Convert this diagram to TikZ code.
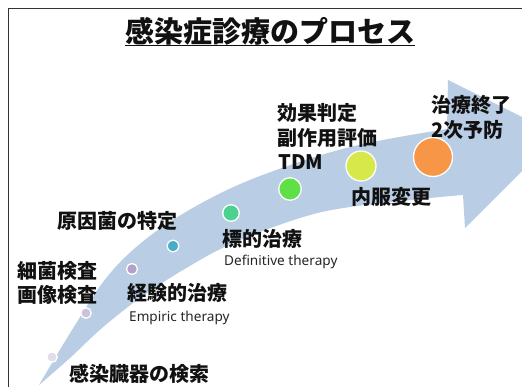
\documentclass[tikz,border=0pt]{standalone}
\usepackage{fontspec}
\newfontfamily\jpfont{Noto Sans CJK JP}
\newfontfamily\enfont{Noto Sans}
\definecolor{framec}{HTML}{333333}
\definecolor{arrowc}{HTML}{B9CDE5}
\definecolor{txt}{HTML}{111111}
\definecolor{entxt}{HTML}{262626}
\definecolor{cA}{HTML}{E2DDEC}
\definecolor{cB}{HTML}{CCC0DA}
\definecolor{cC}{HTML}{B3A2C7}
\definecolor{cD}{HTML}{4BACC6}
\definecolor{cE}{HTML}{4CD28E}
\definecolor{cF}{HTML}{5FE046}
\definecolor{cG}{HTML}{D7E84A}
\definecolor{cH}{HTML}{F79646}
\tikzset{
  jp/.style={font=\jpfont\bfseries\fontsize{20}{24}\selectfont, anchor=base west, inner sep=0pt, text=txt},
  en/.style={font=\enfont\fontsize{13.6}{16}\selectfont, anchor=base west, inner sep=0pt, text=entxt},
  dot/.style={circle, draw=white, line width=1.3pt, inner sep=0pt}
}
\begin{document}
\begin{tikzpicture}[x=1pt,y=-1pt]
\useasboundingbox (0,0) rectangle (522,387);
\clip (0,0) rectangle (522,387);
\fill[white] (0,0) rectangle (522,387);
\draw[framec, line width=1.7pt] (8.5,400) -- (8.5,8.5) -- (540,8.5);
% curved arrow
\fill[arrowc] plot[smooth, tension=0.6] coordinates {(39,385) (72,330) (107,277) (146,239) (198,205) (260,176) (350,147) (447,129)}
  -- (448,80) -- (558,135) -- (465,228) --
  plot[smooth, tension=0.6] coordinates {(463,195) (430,198) (350,207) (300,218) (233,243) (183,270) (140,298) (102,328) (70,358) (39,385)} -- cycle;
% title
\node[font=\jpfont\bfseries\fontsize{29}{34}\selectfont, anchor=base, inner sep=0pt, text=txt] (title) at (270,43) {感染症診療のプロセス};
\draw[txt, line width=1.8pt] ([yshift=-2.5pt]title.base west) -- ([yshift=-2.5pt]title.base east);
% dots
\node[dot, fill=cA, minimum size=10.5pt] (d1) at (52,357) {};
\node[dot, fill=cB, minimum size=10.5pt] (d2) at (86,313) {};
\node[dot, fill=cC, minimum size=11pt] (d3) at (132,269) {};
\node[dot, fill=cD, minimum size=11.5pt] (d4) at (173,246) {};
\node[dot, fill=cE, minimum size=16.5pt] (d5) at (231,213) {};
\node[dot, fill=cF, minimum size=22.5pt] (d6) at (290,189) {};
\node[dot, fill=cG, minimum size=30pt] (d7) at (361,166) {};
\node[dot, fill=cH, minimum size=39pt] (d8) at (433,157) {};
% labels
\node[jp] (t1) at (69,381) {感染臓器の検索};
\node[jp] (t2a) at (17,279) {細菌検査};
\node[jp] (t2b) at (17,302) {画像検査};
\node[jp] (t3) at (127,301) {経験的治療};
\node[en] (t3e) at (129,321) {Empiric therapy};
\node[jp] (t4) at (57,229) {原因菌の特定};
\node[jp] (t5) at (222,247) {標的治療};
\node[en] (t5e) at (224,266) {Definitive therapy};
\node[jp] (t6a) at (277,121) {効果判定};
\node[jp] (t6b) at (277,146) {副作用評価};
\node[jp] (t6c) at (278,170) {TDM};
\node[jp] (t7) at (351,205) {内服変更};
\node[jp] (t8a) at (431,113) {治療終了};
\node[jp] (t8b) at (431,138) {2次予防};
\end{tikzpicture}
\end{document}
